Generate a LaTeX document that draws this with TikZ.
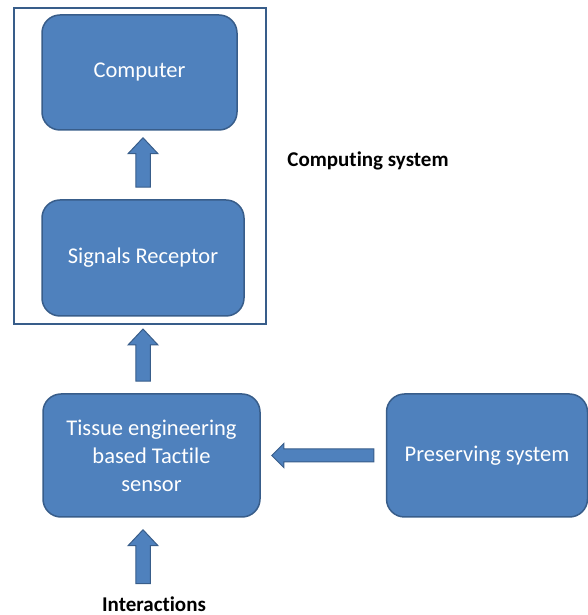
\documentclass[tikz,border=0pt]{standalone}
\usepackage{fontspec}
\setmainfont[Ligatures=NoCommon]{Carlito}
\usetikzlibrary{calc}
\definecolor{boxFill}{RGB}{79,129,189}
\definecolor{boxLine}{RGB}{56,93,138}
\tikzset{
	block/.style={draw=boxLine, line width=1.5pt, fill=boxFill, rounded corners=18pt,
		text=white, align=center, font=\fontsize{22.5}{28}\selectfont},
	sysFrame/.style={draw=boxLine, line width=2pt},
	caption/.style={font=\fontsize{21}{25}\selectfont\bfseries}
}
\tikzset{
	blockArrow/.style={draw=boxLine, line width=1pt, fill=boxFill, line join=miter}
}
% tail, tip, half shaft, half head, head length
\newcommand{\blockarrow}[5]{%
	\path ($(#2)!#5!(#1)$) coordinate (hb);
	\filldraw[blockArrow] ($(#1)!#3!90:(#2)$) -- ($(hb)!#3!90:(#2)$) -- ($(hb)!#4!90:(#2)$)
		-- (#2) -- ($(hb)!#4!-90:(#2)$) -- ($(hb)!#3!-90:(#2)$) -- ($(#1)!#3!-90:(#2)$) -- cycle;
}

\begin{document}
\begin{tikzpicture}[x=1pt,y=1pt]
	\useasboundingbox (0,0) rectangle (588,615);
	\node[sysFrame, minimum width=252pt, minimum height=316pt] (csys) at (140,449) {};
	\node[block, minimum width=195pt, minimum height=115pt] (comp) at (139.5,542.5) {Computer};
	\node[block, minimum width=202pt, minimum height=116pt] (sig) at (143,357) {Signals Receptor};
	\node[block, minimum width=217pt, minimum height=123pt] (tis) at (151.5,159.5) {Tissue engineering\\based Tactile\\sensor};
	\node[block, minimum width=201pt, minimum height=123pt] (pres) at (487,159.5) {Preserving system};
	\node[caption] (csysLabel) at (368,454) {Computing system};
	\node[caption] (inter) at (154,11) {Interactions};

	\coordinate (a1s) at ($(sig.north)+(0,12)$);
	\coordinate (a1t) at ($(sig.north |- comp.south)+(0,-7)$);
	\coordinate (a2s) at ($(sig.south |- tis.north)+(0,12)$);
	\coordinate (a2t) at ($(sig.south |- csys.south)+(0,-4)$);
	\coordinate (a3s) at ($(pres.west)+(-12,0)$);
	\coordinate (a3t) at ($(tis.east)+(11,0)$);
	\coordinate (a4t) at ($(sig.south |- tis.south)+(0,-12)$);
	\coordinate (a4s) at ($(a4t)+(0,-54)$);

	\blockarrow{a1s}{a1t}{7.25pt}{15pt}{16pt}
	\blockarrow{a2s}{a2t}{7.25pt}{15pt}{16pt}
	\blockarrow{a3s}{a3t}{6.5pt}{12pt}{12pt}
	\blockarrow{a4s}{a4t}{7.25pt}{15pt}{16pt}
\end{tikzpicture}
\end{document}
